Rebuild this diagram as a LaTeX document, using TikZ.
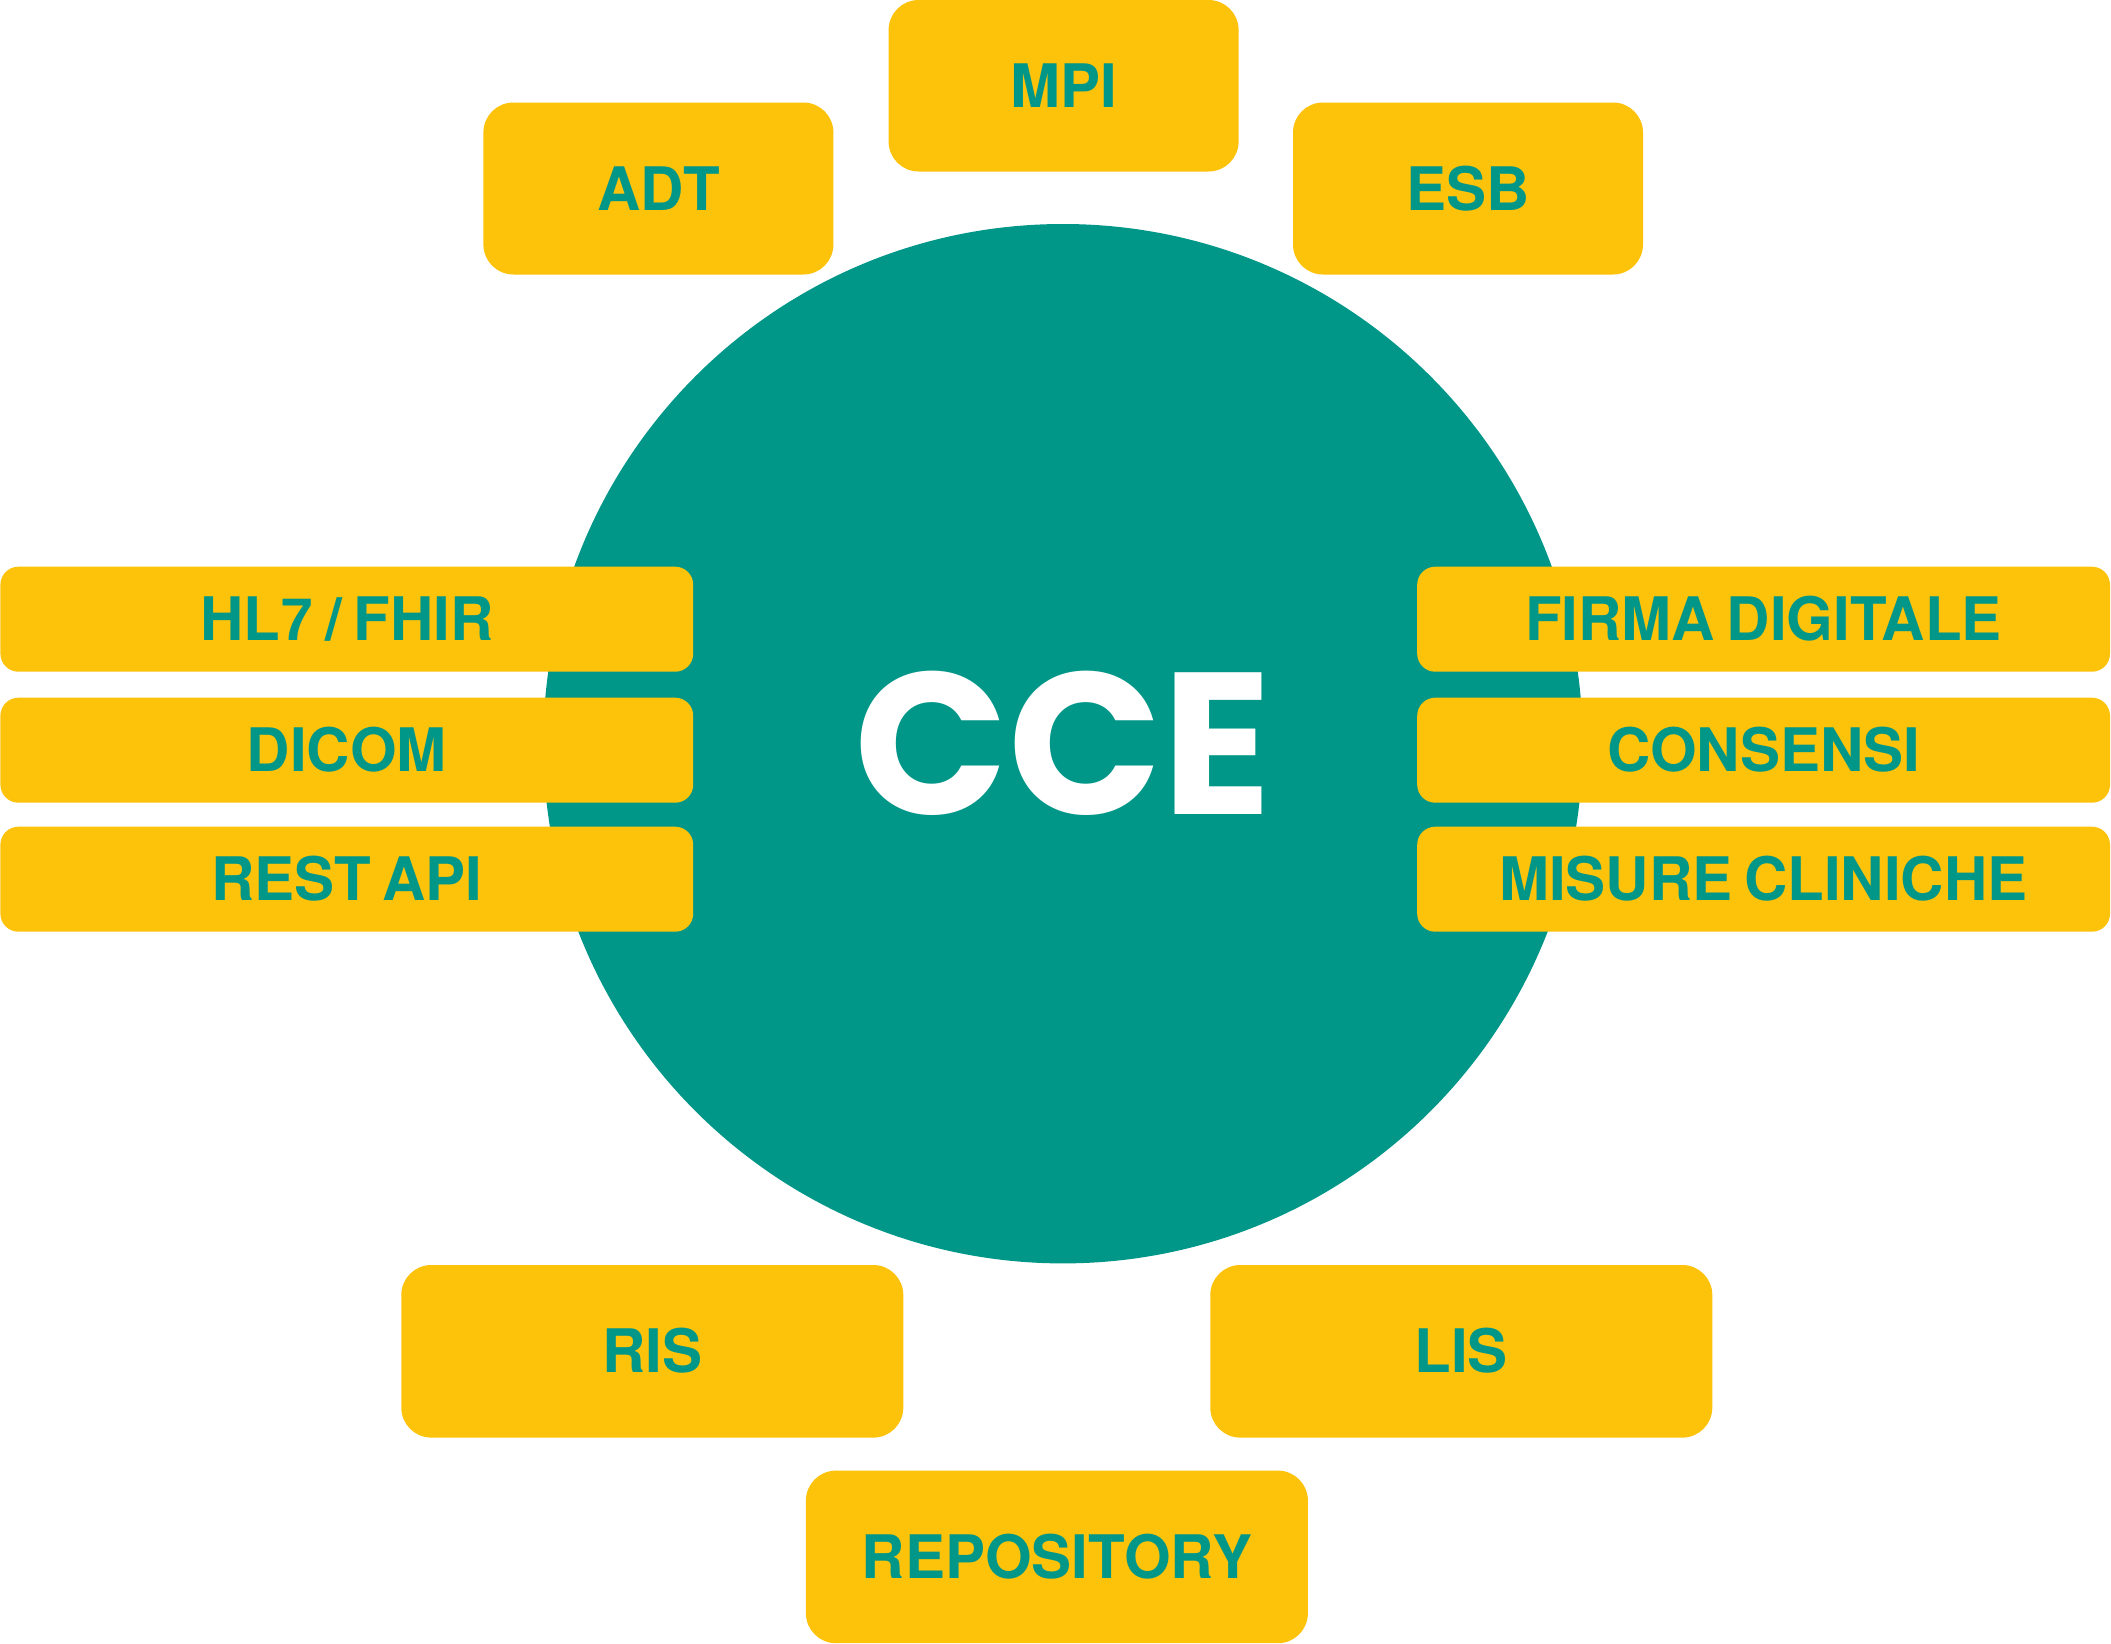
\documentclass[tikz,border=0pt]{standalone}
\usepackage{fontspec}
\newfontfamily\lblfont{TeX Gyre Heros}[WordSpace=0.7]
\newfontfamily\altfont{Liberation Sans}
\newfontfamily\ccefont{Poppins}
\definecolor{teal}{HTML}{009788}
\definecolor{amber}{HTML}{FDC20A}
\begin{document}
\begin{tikzpicture}[x=0.5pt,y=-0.5pt,
  box/.style={fill=amber, inner sep=0pt, text=teal,
    font=\lblfont\bfseries\fontsize{30pt}{36pt}\selectfont,
    text height=21.5pt, text depth=0pt, align=center},
  bigbox/.style={box, rounded corners=15pt, minimum width=175pt, minimum height=86pt},
  bottombox/.style={box, rounded corners=15pt, minimum width=251pt, minimum height=86.3pt},
  bar/.style={box, rounded corners=9pt, minimum width=346.4pt, minimum height=52.5pt},
  hub/.style={circle, fill=teal, inner sep=0pt, minimum size=519.7pt, text=white,
    font=\ccefont\bfseries\fontsize{101pt}{110pt}\selectfont,
    text height=70.5pt, text depth=0pt}]
\useasboundingbox (0,0) rectangle (2111,1644);
\node[hub] (cce) at (1063,743.7) {CCE};
% top
\node[bigbox, minimum height=85.75pt] (mpi) at (1063.6,85.75) {MPI};
\node[bigbox] (adt) at (658.4,188.5) {ADT};
\node[bigbox] (esb) at (1468,188.5) {ESB};
% left bars
\node[bar] (hl7) at (346.8,619.2) {HL{\altfont\bfseries 7} / FHIR};
\node[bar] (dicom) at (346.8,750.2) {DICOM};
\node[bar] (rest) at (346.8,879.2) {REST API};
% right bars
\node[bar] (firma) at (1763.6,619.2) {FIRMA DIGITALE};
\node[bar] (consensi) at (1763.6,750.2) {CONSENSI};
\node[bar] (misure) at (1763.6,879.2) {MISURE CLINICHE};
% bottom
\node[bottombox] (ris) at (652.3,1351.3) {RIS};
\node[bottombox] (lis) at (1461.3,1351.3) {LIS};
\node[bottombox] (repo) at (1056.9,1556.9) {REPOSITORY};
\end{tikzpicture}
\end{document}
